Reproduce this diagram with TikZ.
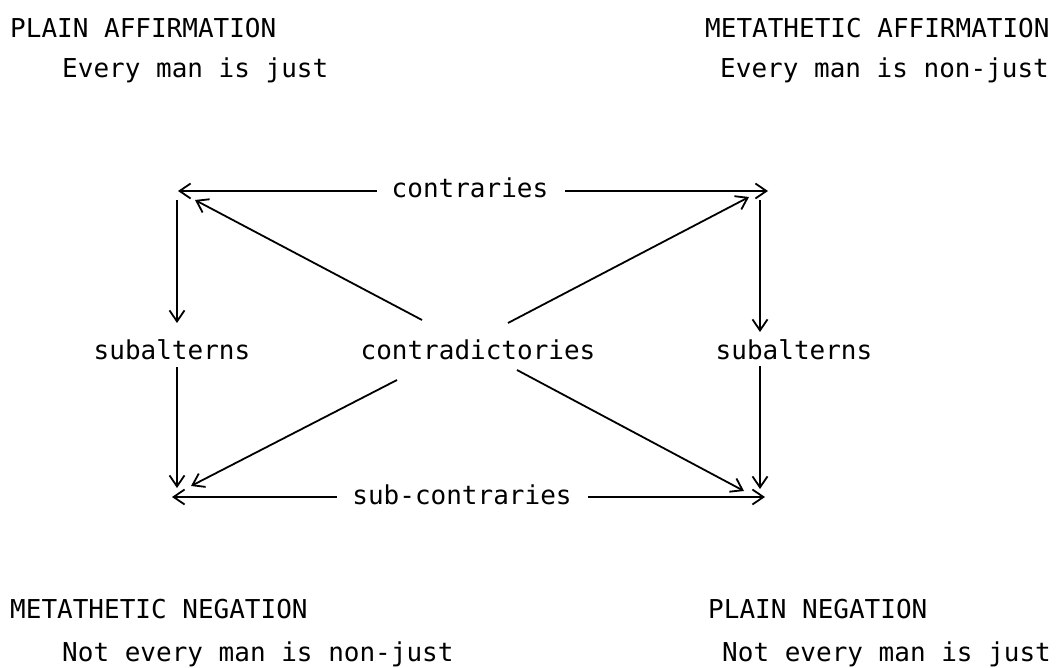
\documentclass[tikz,border=0pt]{standalone}
\usepackage{fontspec}
\setmonofont{DejaVu Sans Mono}
\usetikzlibrary{arrows.meta}
\begin{document}
\begin{tikzpicture}[x=1pt,y=-1pt,
  txt/.style={font=\ttfamily\fontsize{26}{30}\selectfont, inner sep=0pt, anchor=base west},
  lbl/.style={font=\ttfamily\fontsize{26}{30}\selectfont, inner sep=0pt, anchor=base},
  conn/.style={line width=1.8pt, -{Straight Barb[length=11pt,width=15pt,line width=1.8pt]}}
]
\useasboundingbox (0,0) rectangle (1061,668);
% corner texts
\node[txt] (pa)  at (10,38)  {PLAIN AFFIRMATION};
\node[txt] (pas) at (62,78)  {Every man is just};
\node[txt] (ma)  at (705,38) {METATHETIC AFFIRMATION};
\node[txt] (mas) at (720,78) {Every man is non-just};
\node[txt] (mn)  at (10,618) {METATHETIC NEGATION};
\node[txt] (mns) at (62,661) {Not every man is non-just};
\node[txt] (pn)  at (708,618){PLAIN NEGATION};
\node[txt] (pns) at (722,661){Not every man is just};
% labels
\node[lbl] (con) at (470,198) {contraries};
\node[lbl] (sub) at (462,504) {sub-contraries};
\node[lbl] (cd)  at (478,360) {contradictories};
\node[lbl] (sl)  at (172,360) {subalterns};
\node[lbl] (sr)  at (794,360) {subalterns};
% coordinates
\coordinate (tl) at (178,191);
\coordinate (tr) at (768,191);
\coordinate (bl) at (172,497);
\coordinate (br) at (765,497);
\coordinate (conw) at (377,191);
\coordinate (cone) at (565,191);
\coordinate (subw) at (337,497);
\coordinate (sube) at (588,497);
\coordinate (lv1) at (177,200);
\coordinate (lv2) at (177,323);
\coordinate (lv3) at (177,367);
\coordinate (lv4) at (177,488);
\coordinate (rv1) at (760,200);
\coordinate (rv2) at (760,332);
\coordinate (rv3) at (760,366);
\coordinate (rv4) at (760,489);
\coordinate (d1s) at (422,320);
\coordinate (d1e) at (195,200);
\coordinate (d2s) at (508,323);
\coordinate (d2e) at (749,197);
\coordinate (d3s) at (397,380);
\coordinate (d3e) at (191,486);
\coordinate (d4s) at (517,370);
\coordinate (d4e) at (744,491);
% connectors
\draw[conn] (conw) -- (tl);
\draw[conn] (cone) -- (tr);
\draw[conn] (subw) -- (bl);
\draw[conn] (sube) -- (br);
\draw[conn] (lv1) -- (lv2);
\draw[conn] (lv3) -- (lv4);
\draw[conn] (rv1) -- (rv2);
\draw[conn] (rv3) -- (rv4);
\draw[conn] (d1s) -- (d1e);
\draw[conn] (d2s) -- (d2e);
\draw[conn] (d3s) -- (d3e);
\draw[conn] (d4s) -- (d4e);
\end{tikzpicture}
\end{document}
